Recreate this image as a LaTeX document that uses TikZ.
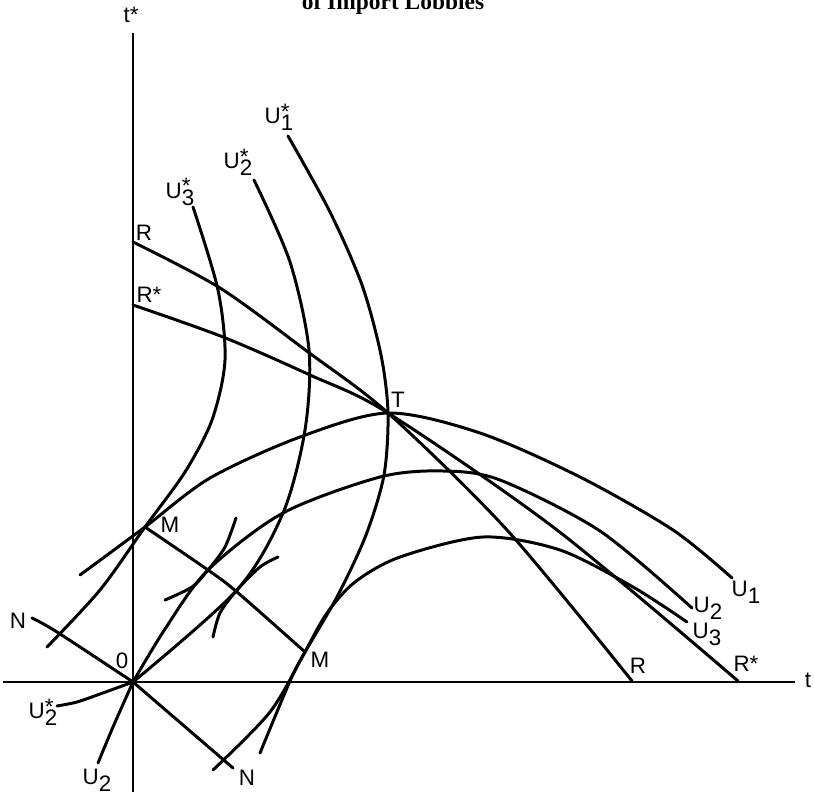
\documentclass[tikz,border=0pt]{standalone}
\usepackage{fontspec}
\setmainfont{Liberation Serif}
\setsansfont{Liberation Sans}
\usetikzlibrary{positioning}
\newcommand{\Usub}[1]{U\raisebox{-0.6ex}{#1}}
\newcommand{\Ustar}[1]{U\rlap{\raisebox{0.35ex}{*}}\raisebox{-0.6ex}{#1}}

\begin{document}
\begin{tikzpicture}[
      x=0.0165cm, y=-0.0165cm,
      axis/.style={line width=0.7pt, black},
      curve/.style={line width=1.4pt, black, line cap=round, line join=round},
      lbl/.style={font=\sffamily\fontsize{10.5}{12}\selectfont, inner sep=0pt}
  ]
  \useasboundingbox (0,0) rectangle (814,794);

  % Points
  \coordinate (O) at (133,682);
  \coordinate (T) at (388,413);
  \coordinate (Mup) at (145,527);
  \coordinate (Mlo) at (305,652);
  \coordinate (yTop) at (133,33);
  \coordinate (yBot) at (133,792);
  \coordinate (xLeft) at (3,682);
  \coordinate (xRight) at (795,682);

  % Axes
  \draw [axis] (yTop) -- (yBot);
  \draw [axis] (xLeft) -- (xRight);

  % R and R* curves
  \draw [curve] plot[smooth] coordinates {(133,242) (220,288) (308,352) (T) (507,530) (632,681)};
  \draw [curve] plot[smooth] coordinates {(133,305) (223,337) (310,375) (T) (557,530) (738,681)};

  % Foreign indifference curves
  \draw [curve] plot[smooth] coordinates {(288,136) (330,212) (362,285) (381,355) (T) (384,475) (366,535) (338,595) (Mlo) (270,712) (213,770)};
  \draw [curve] plot[smooth] coordinates {(254,180) (290,262) (309,350) (305,430) (283,513) (237,590) (O)}
        plot[smooth] coordinates {(O) (100,694) (77,702) (57,706)};
  \draw [curve] plot[smooth] coordinates {(193,207) (218,290) (225,360) (212,420) (185,472) (Mup) (100,590) (47,647)};

  % Home indifference curves
  \draw [curve] plot[smooth] coordinates {(80,575) (Mup) (210,478) (300,437) (T) (480,433) (580,477) (673,530) (732,578)};
  \draw [curve] plot[smooth] coordinates {(98,763) (113,727) (O)}
        plot[smooth] coordinates {(O) (165,629) (208,570) (283,513) (380,477) (443,471) (500,480) (600,531) (692,608)};
  \draw [curve] plot[smooth] coordinates {(260,753) (290,681) (Mlo) (327,613) (355,582) (400,557) (483,537) (560,550) (633,587) (687,622)};

  % Tangency arcs
  \draw [curve] plot[smooth] coordinates {(165,600) (192,587) (208,570) (225,547) (236,518)};
  \draw [curve] plot[smooth] coordinates {(213,637) (220,613) (237,590) (260,567) (278,557)};

  % MM and NN curves
  \draw [curve] plot[smooth] coordinates {(Mup) (208,570) (237,592) (Mlo)};
  \draw [curve] plot[smooth] coordinates {(32,618) (57,632) (O)} -- (233,768);

  % Labels
  \node (title) at (393,10) [anchor=base, font=\bfseries\fontsize{11}{13}\selectfont] {of Import Lobbies};
  \node [lbl] (ltstar) at (131,15) {t*};
  \node [lbl] (lt) at (808,680) {t};
  \node [lbl] (lU1s) at (279,117) {\Ustar{1}};
  \node [lbl] (lU2s) at (238,162) {\Ustar{2}};
  \node [lbl] (lU3s) at (180,192) {\Ustar{3}};
  \node [lbl] (lRup) at (144,233) {R};
  \node [lbl] (lRsup) at (149,295) {R*};
  \node [lbl] (lT) at (398,400) {T};
  \node [lbl] (lMup) at (170,525) {M};
  \node [lbl] (lMlo) at (320,660) {M};
  \node [lbl] (lNle) at (18,621) {N};
  \node [lbl] (lNlo) at (247,778) {N};
  \node [lbl] (lO) at (122,661) {0};
  \node [lbl] (lU2sb) at (43,712) {\Ustar{2}};
  \node [lbl] (lU2b) at (97,780) {\Usub{2}};
  \node [lbl] (lRlo) at (638,666) {R};
  \node [lbl] (lRslo) at (746,664) {R*};
  \node [lbl] (lU1) at (746,592) {\Usub{1}};
  \node [lbl] (lU2) at (708,608) {\Usub{2}};
  \node [lbl] (lU3) at (707,634) {\Usub{3}};

\end{tikzpicture}
\end{document}
